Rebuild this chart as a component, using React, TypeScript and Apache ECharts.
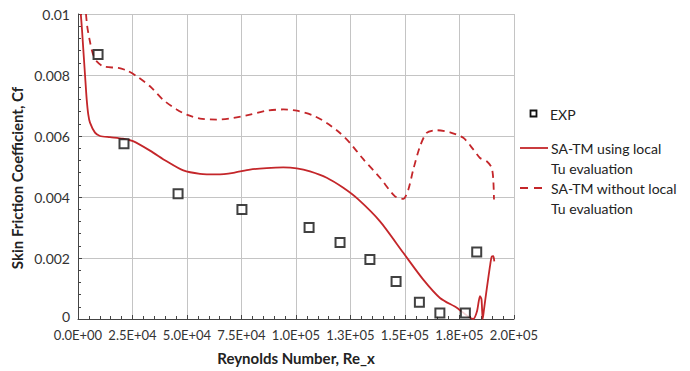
import React, { useEffect, useRef } from "react";
import * as echarts from "echarts";

// EXP data (Reynolds number, Cf)
const expRe = [9200, 21100, 45900, 75200, 106000, 120200, 133900, 145900, 156600, 166000, 177700, 182900];
const expCf = [0.00867, 0.00575, 0.00411, 0.00359, 0.0030, 0.00251, 0.00195, 0.00123, 0.00055, 0.0002, 0.0002, 0.0022];

// SA-TM using local Tu evaluation
const localRe = [1280, 1830, 2430, 3210, 3990, 4720, 5500, 7800, 10090, 14680, 20640, 25230, 33030, 40690, 48300, 55960, 63620, 71240, 78900, 86560, 94170, 100320, 106420, 114080, 121690, 128570, 138530, 149220, 158390, 166050, 173710, 181330, 183020, 184400, 185090, 185640, 186230, 187470, 188980, 189760, 190500, 190960];
const localCf = [0.0100, 0.00949, 0.00884, 0.00801, 0.00720, 0.00670, 0.00644, 0.00611, 0.00600, 0.00596, 0.00591, 0.00583, 0.00552, 0.00517, 0.00487, 0.00476, 0.00474, 0.00479, 0.00490, 0.00495, 0.00497, 0.00494, 0.00484, 0.00463, 0.00430, 0.00392, 0.00320, 0.00217, 0.00129, 0.00069, 0.00037, 0.0, 0.00025, 0.00075, 0.00064, 0.0, 0.00031, 0.00097, 0.00173, 0.00204, 0.00206, 0.00189];

// SA-TM without local Tu evaluation
const noLocalRe = [3670, 4130, 4720, 5500, 6280, 7340, 8580, 11610, 18490, 22340, 26930, 33030, 39130, 45270, 49860, 55960, 63620, 71240, 78900, 86560, 94170, 100320, 107930, 114080, 120180, 124770, 130870, 138530, 145410, 149220, 151510, 153800, 156870, 159940, 164530, 170640, 176740, 181330, 184400, 187470, 189760, 190500, 190820];
const noLocalCf = [0.0100, 0.00965, 0.00938, 0.00909, 0.00883, 0.00860, 0.00845, 0.00828, 0.00823, 0.00815, 0.00796, 0.00763, 0.00718, 0.00687, 0.00670, 0.00657, 0.00654, 0.00659, 0.00670, 0.00683, 0.00687, 0.00683, 0.00667, 0.00643, 0.00610, 0.00577, 0.00524, 0.00463, 0.00402, 0.00394, 0.00424, 0.00490, 0.00566, 0.00610, 0.00619, 0.00612, 0.00594, 0.00556, 0.00528, 0.00517, 0.00496, 0.00457, 0.00392];

const xTickLabels = ["0.0E+00", "2.5E+04", "5.0E+04", "7.5E+04", "1.0E+05", "1.3E+05", "1.5E+05", "1.8E+05", "2.0E+05"];
const yTickLabels = ["0", "0.002", "0.004", "0.006", "0.008", "0.01"];

const xAxisTitle = "Reynolds Number, Re_x";
const yAxisTitle = "Skin Friction Coefficient, Cf";

const seriesNames = ["EXP", "SA-TM using local Tu evaluation", "SA-TM without local Tu evaluation"];
const legendLines = [["EXP"], ["SA-TM using local", "Tu evaluation"], ["SA-TM without local", "Tu evaluation"]];

const RED = "#c4262a";
const FONT = "Lato";

export default function App() {
  const ref = useRef<HTMLDivElement>(null);
  useEffect(() => {
    if (!ref.current) return;
    const chart = echarts.init(ref.current, null, { renderer: "svg" });
    const pair = (xs: number[], ys: number[]) => xs.map((x, i) => [x, ys[i]]);

    const legendText = (t: string, x: number, y: number) => ({
      type: "text",
      x,
      y,
      style: {
        text: t,
        fill: "#222",
        font: `14px ${FONT}`,
        textAlign: "left",
        verticalAlign: "middle",
      },
    });

    chart.setOption({
      animation: false,
      textStyle: { fontFamily: FONT },
      grid: { left: 78, right: 176, top: 14, bottom: 52, containLabel: false },
      graphic: [
        {
          type: "text",
          x: 17,
          y: 178,
          rotation: Math.PI / 2,
          style: {
            text: yAxisTitle,
            fill: "#222",
            font: `bold 15px ${FONT}`,
            textAlign: "center",
            verticalAlign: "middle",
          },
        },
        {
          type: "rect",
          shape: { x: 530.5, y: 110.5, width: 6, height: 6 },
          style: { fill: "#fff", stroke: "#111", lineWidth: 1.8 },
        },
        legendText(legendLines[0][0], 550, 114),
        {
          type: "line",
          shape: { x1: 520, y1: 148, x2: 548, y2: 148 },
          style: { stroke: RED, lineWidth: 1.8 },
        },
        legendText(legendLines[1][0], 551, 148),
        legendText(legendLines[1][1], 551, 168),
        {
          type: "line",
          shape: { x1: 520, y1: 188, x2: 548, y2: 188 },
          style: { stroke: RED, lineWidth: 1.8, lineDash: [8, 6] },
        },
        legendText(legendLines[2][0], 551, 188),
        legendText(legendLines[2][1], 551, 208),
      ],
      xAxis: {
        type: "value",
        min: 0,
        max: 200000,
        interval: 25000,
        name: xAxisTitle,
        nameLocation: "middle",
        nameGap: 31,
        nameTextStyle: { fontFamily: FONT, fontSize: 15, fontWeight: "bold", color: "#222" },
        axisLine: { show: true, lineStyle: { color: "#444", width: 1 } },
        axisTick: { show: true, inside: true, length: 4, lineStyle: { color: "#444" } },
        minorTick: { show: true, splitNumber: 5, length: 3, lineStyle: { color: "#444" } },
        axisLabel: {
          fontFamily: FONT,
          fontSize: 13,
          color: "#333",
          margin: 9,
          formatter: (v: number) => xTickLabels[Math.round(v / 25000)],
        },
        splitLine: { show: true, lineStyle: { color: "#c4c4c4", width: 1 } },
      },
      yAxis: {
        type: "value",
        min: 0,
        max: 0.01,
        interval: 0.002,
        axisLine: { show: true, lineStyle: { color: "#444", width: 1 } },
        axisTick: { show: true, inside: true, length: 4, lineStyle: { color: "#444" } },
        minorTick: { show: true, splitNumber: 5, length: 3, lineStyle: { color: "#444" } },
        axisLabel: {
          fontFamily: FONT,
          fontSize: 14,
          color: "#333",
          margin: 8,
          formatter: (v: number) => {
            const i = Math.round(v / 0.002);
            return i === 0 ? `{z|${yTickLabels[i]}}` : yTickLabels[i];
          },
          rich: { z: { fontFamily: FONT, fontSize: 14, color: "#333", padding: [0, 0, 5, 0] } },
        },
        splitLine: { show: true, lineStyle: { color: "#c4c4c4", width: 1 } },
      },
      series: [
        {
          name: seriesNames[0],
          type: "scatter",
          symbol: "rect",
          symbolSize: 9,
          data: pair(expRe, expCf),
          itemStyle: { color: "#ffffff", borderColor: "#111", borderWidth: 2 },
          z: 5,
        },
        {
          name: seriesNames[1],
          type: "line",
          symbol: "none",
          smooth: 0.25,
          data: pair(localRe, localCf),
          lineStyle: { color: RED, width: 1.8 },
          itemStyle: { color: RED },
        },
        {
          name: seriesNames[2],
          type: "line",
          symbol: "none",
          smooth: 0.25,
          data: pair(noLocalRe, noLocalCf),
          lineStyle: { color: RED, width: 1.8, type: [7, 5] },
          itemStyle: { color: RED },
        },
      ],
    });
    return () => chart.dispose();
  }, []);
  return (
    <div
      ref={ref}
      style={{ position: "fixed", left: 0, top: 0, width: 690, height: 371, background: "#fff" }}
    />
  );
}
